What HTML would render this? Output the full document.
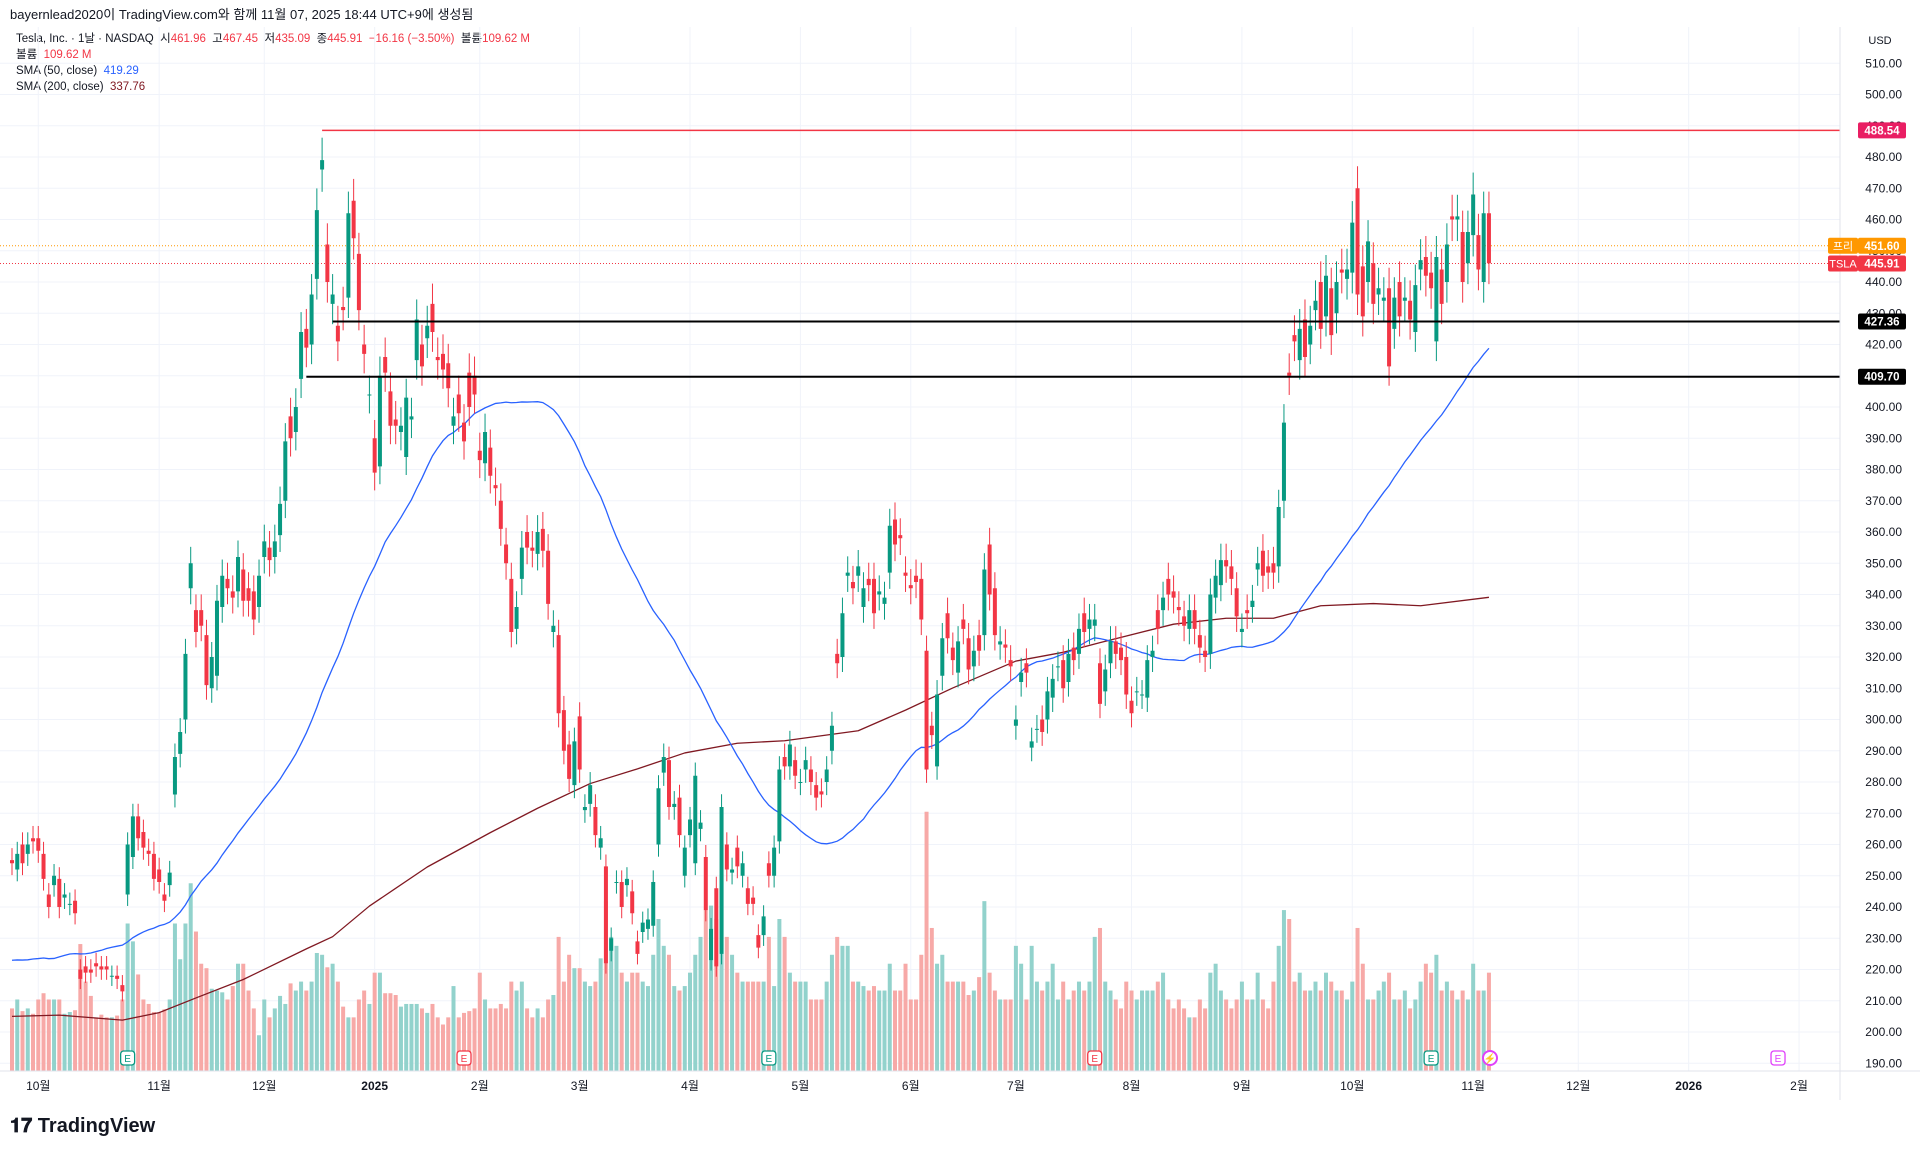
<!DOCTYPE html>
<html><head><meta charset="utf-8">
<style>
html,body{margin:0;padding:0;background:#fff;width:1920px;height:1155px;overflow:hidden;font-family:"Liberation Sans","Noto Sans CJK KR",sans-serif;}
#hdr{position:absolute;left:10px;top:4px;font-size:13px;color:#131722;}
#legend{position:absolute;left:16px;top:31px;font-size:11.5px;color:#131722;line-height:16px;}
.r{color:#f23645}.b{color:#2962ff}.m{color:#801922}
#logo{position:absolute;left:10px;top:1115px;font-size:20px;font-weight:bold;color:#131722;}
svg{position:absolute;left:0;top:0;}
</style></head><body>
<div id="hdr">bayernlead2020이 TradingView.com와 함께 11월 07, 2025 18:44 UTC+9에 생성됨</div>
<div id="legend">
<div>Tesla, Inc. · 1날 · NASDAQ &nbsp;시<span class="r">461.96</span> &nbsp;고<span class="r">467.45</span> &nbsp;저<span class="r">435.09</span> &nbsp;종<span class="r">445.91</span> &nbsp;<span class="r">−16.16 (−3.50%)</span> &nbsp;볼륨<span class="r">109.62 M</span></div>
<div>볼륨 &nbsp;<span class="r">109.62 M</span></div>
<div>SMA (50, close) &nbsp;<span class="b">419.29</span></div>
<div>SMA (200, close) &nbsp;<span class="m">337.76</span></div>
</div>
<div id="logo">𝟏𝟕 TradingView</div>
<svg id="chart" width="1920" height="1155"></svg>
<script>
const closes = [
254,257,254,260,261,
258,249,240,250,240,244,241,238,217,219,219,221,220,220,218,217,213,260,269,262,259,257,249,
248,242,251,288,296,321,350,328,330,311,320,338,346,342,339,352,338,338,332,346,
357,351,357,369,389,390,400,424,419,436,463,479,440,436,421,431,462,454,431,417,404,
379,410,411,394,394,394,403,397,428,413,426,424,415,412,406,397,398,389,400,404,
383,392,378,374,361,350,328,336,355,355,354,360,354,337,330,302,290,281,293,
284,272,279,263,262,222,230,248,240,249,238,225,235,236,248,278,288,272,273,263,259,
268,282,267,239,233,221,272,252,252,253,254,241,241,227,237,250,259,284,285,292,282,
280,287,280,275,276,284,298,318,334,347,342,349,342,343,334,341,339,362,356,358,346,
342,344,332,284,295,308,326,326,319,325,329,316,322,322,348,340,327,325,323,317,
300,315,315,293,297,296,309,313,317,310,321,319,329,328,332,332,305,316,325,321,319,308,
302,309,308,319,322,329,339,340,339,335,330,335,329,323,320,340,346,351,349,345,333,
329,334,338,350,346,347,347,368,395,410,421,425,416,426,434,425,442,423,440,443,444,
459,436,429,453,433,438,435,413,435,429,435,428,439,447,442,438,448,433,452,460,461,440,456,
468,444,462,446];
const opens = [
255,252,260,257,262,
262,257,244,247,249,243,241,242,220,221,220,222,221,221,218,218,215,244,256,269,264,258,257,
252,244,247,276,289,300,342,335,335,327,310,314,336,345,341,341,348,342,341,336,
352,355,352,359,370,397,392,409,425,420,441,476,452,433,426,432,435,466,449,420,404,
390,381,416,405,396,392,384,396,415,420,422,433,416,417,414,394,404,395,411,410,
386,382,387,375,370,356,345,329,345,360,355,353,361,354,328,327,303,292,279,
301,271,273,272,259,253,226,248,248,247,245,229,232,233,234,260,283,287,272,275,250,
263,254,265,256,223,246,225,260,251,259,250,246,243,231,231,254,250,261,288,285,287,
280,284,284,279,277,280,290,321,320,346,344,346,336,345,345,340,337,347,364,359,347,
343,346,345,322,298,285,314,334,323,315,332,326,317,327,327,356,342,324,324,319,
298,312,318,291,297,300,300,307,317,319,312,323,321,334,329,330,318,309,318,325,323,320,
306,309,308,307,320,335,335,345,341,336,333,329,335,327,322,321,339,343,351,349,342,
328,335,336,348,354,349,350,349,370,411,423,415,428,420,431,440,429,438,430,444,441,
443,470,445,440,446,436,434,438,425,440,434,434,424,444,448,443,421,444,440,461,460,456,446,
455,455,440,462];
const volumes = [
70,80,67,70,64,
80,87,80,80,80,64,66,68,142,100,84,60,63,60,60,62,80,165,145,108,80,75,66,
65,69,80,165,125,165,210,156,120,115,92,90,88,80,95,120,120,90,70,40,
80,60,70,84,75,98,90,100,90,100,132,130,116,120,100,72,60,60,80,90,75,
110,110,87,87,85,72,75,75,75,70,65,75,60,52,60,95,60,65,67,70,
110,80,70,70,75,70,100,90,100,70,60,70,60,80,85,150,100,130,115,
115,100,95,100,126,190,150,140,110,100,110,110,100,95,130,170,140,130,95,90,95,
110,130,150,180,185,170,220,150,130,110,100,100,100,100,100,150,95,170,150,110,100,
100,100,80,80,80,100,130,150,140,140,100,100,95,90,95,90,90,120,90,90,120,
80,80,130,290,160,120,130,100,100,100,100,85,90,105,190,110,90,80,80,80,
140,120,80,140,100,90,100,120,80,100,80,90,100,90,100,150,160,100,90,80,70,100,
90,80,90,90,90,100,110,80,70,80,70,60,60,80,70,110,120,90,80,70,80,
100,80,80,110,80,70,100,140,180,170,100,110,90,90,100,90,110,100,90,90,80,
100,160,120,80,80,90,100,110,80,80,90,70,80,100,120,110,130,90,100,90,80,90,80,
120,90,90,110];
const priorCloses = [252,256,256,248,251,240,251,246,215,220,219,232,222,
216,207,198,200,191,198,200,197,207,201,214,216,222,223,210,221,213,214,210,206,205,214,
210,219,230,230,216,226,228,229,230,227,226,238,244,250];
const sma200Idx = [0,9,21,28,35,44,56,61,68,79,91,100,110,119,128,138,147,161,170,179,191,200,207,221,231,240,249,259,268,281];
const sma200Val = [205,205.4,203.8,206.2,210.9,216.8,226.6,230.5,240.3,252.8,263.8,271.6,279.5,284.2,289.3,292.4,293.2,296.4,303,310.1,318.7,321.5,324.6,330.5,332.4,332.4,336.4,337.1,336.4,339.1];
const priceTicks = [190,200,210,220,230,240,250,260,270,280,290,300,310,320,330,340,350,360,370,380,390,400,410,420,430,440,450,460,470,480,490,500,510];
const monthLabels = ["10월","11월","12월","2025","2월","3월","4월","5월","6월","7월","8월","9월","10월","11월","12월","2026","2월"];
const monthIdx = [5,28,48,69,89,108,129,150,171,191,213,234,255,278,298,319,340];
const levels = [488.54,427.36,409.70];
const levelStart = [59,61,56];
const earningsIdx = [22,86,144,206,270];
const futureEarningsIdx = 336;

const svg=document.getElementById('chart');
const NS='http://www.w3.org/2000/svg';
const X0=12, DX=5.256, PR=1840, VB=1071;
const x=i=>X0+i*DX;
const y=p=>157+(480-p)*3.125;
const vy=v=>VB-v*0.894;
function mk(tag,attrs,parent){const e=document.createElementNS(NS,tag);for(const k in attrs)e.setAttribute(k,attrs[k]);(parent||svg).appendChild(e);return e;}

const grid=mk('g',{});


priceTicks.forEach(p=>{const l=mk('line',{x1:0,x2:PR,y1:y(p),y2:y(p),stroke:'#f0f3fa','stroke-width':1},grid);

});
monthIdx.forEach(i=>{const l=mk('line',{x1:x(i),x2:x(i),y1:27,y2:VB,stroke:'#f0f3fa','stroke-width':1},grid);

});

const vg=mk('g',{});


volumes.forEach((v,i)=>{const up=closes[i]>=opens[i];
const r=mk('rect',{x:x(i)-2,y:vy(v),width:4,height:VB-vy(v),fill:up?'#92d2cc':'#f7a9a7'},vg);

});

let d='';sma200Idx.forEach((i,k)=>{d+=(k?'L':'M')+x(i)+' '+y(sma200Val[k]);});
const s2=mk('path',{d:d,fill:'none',stroke:'#801922','stroke-width':1.3,'stroke-linejoin':'round'});


const all=priorCloses.concat(closes);const P=priorCloses.length;
d='';for(let i=0;i<closes.length;i++){let s=0;for(let j=i+P-49;j<=i+P;j++)s+=all[j];d+=(i?'L':'M')+x(i)+' '+y(s/50);}
const s1=mk('path',{d:d,fill:'none',stroke:'#2962ff','stroke-width':1.3});



const pl1=mk('line',{x1:0,x2:PR,y1:y(451.6),y2:y(451.6),stroke:'#ff9800','stroke-width':1,'stroke-dasharray':'1 2'});


const pl2=mk('line',{x1:0,x2:PR,y1:y(445.91),y2:y(445.91),stroke:'#f23645','stroke-width':1,'stroke-dasharray':'1 2'});



const cg=mk('g',{});


closes.forEach((c,i)=>{const o=opens[i];const up=c>=o;const col=up?'#089981':'#f23645';
const hi=Math.max(o,c)*1.015, lo=Math.min(o,c)*0.985;
const w=mk('line',{x1:x(i),x2:x(i),y1:y(hi),y2:y(lo),stroke:col,'stroke-width':1},cg);


const top=y(Math.max(o,c));const h=Math.max(1,y(Math.min(o,c))-top);
const b=mk('rect',{x:x(i)-2,y:top,width:4,height:h,fill:col},cg);

});

levels.forEach((p,k)=>{const l=mk('line',{x1:x(levelStart[k]),x2:PR,y1:y(p),y2:y(p),stroke:k?'#000':'#f23645','stroke-width':k?2:1.5});

});

earningsIdx.concat([futureEarningsIdx]).forEach((i,k)=>{const g=mk('g',{});


const purple=k===5;
const col=purple?'#e040fb':(k%2?'#f23645':'#089981');
mk('rect',{x:x(i)-7,y:1051,width:14,height:14,rx:3,fill:'#fff',stroke:col,'stroke-width':1.3},g);
const t=mk('text',{x:x(i),y:1062,'text-anchor':'middle','font-size':10,fill:col,'font-family':'Liberation Sans'},g);t.textContent='E';});
const ev=mk('circle',{cx:1490,cy:1058,r:7,fill:'#fff',stroke:'#e040fb','stroke-width':2});


const evt=mk('text',{x:1490,y:1062,'text-anchor':'middle','font-size':10,fill:'#e040fb'});evt.textContent='⚡';



const ax=mk('line',{x1:PR,x2:PR,y1:27,y2:1100,stroke:'#e0e3eb'});


const bx=mk('line',{x1:0,x2:1920,y1:VB,y2:VB,stroke:'#e0e3eb'});


const usd=mk('text',{x:1880,y:44,'text-anchor':'middle','font-size':11,fill:'#131722'});usd.textContent='USD';


priceTicks.forEach(p=>{const t=mk('text',{x:1902,y:y(p)+4,'text-anchor':'end','font-size':12,fill:'#131722'});t.textContent=p.toFixed(2);

});
monthLabels.forEach((m,k)=>{const t=mk('text',{x:x(monthIdx[k]),y:1090,'text-anchor':'middle','font-size':12,'font-weight':(m==='2025'||m==='2026')?'bold':'normal',fill:'#131722','font-family':'Liberation Sans, Noto Sans CJK KR, sans-serif'});t.textContent=m;

});

function tag(p,txt,bg,pre,preBg){const g=mk('g',{});


mk('rect',{x:1858,y:y(p)-8,width:48,height:16,rx:2,fill:bg},g);
const t=mk('text',{x:1882,y:y(p)+4,'text-anchor':'middle','font-size':11.5,fill:'#fff','font-weight':'bold'},g);t.textContent=txt;
if(pre){mk('rect',{x:1828,y:y(p)-8,width:30,height:16,rx:2,fill:preBg},g);
const q=mk('text',{x:1843,y:y(p)+4,'text-anchor':'middle','font-size':11,fill:'#fff','font-family':'Liberation Sans, Noto Sans CJK KR, sans-serif'},g);q.textContent=pre;}}
tag(488.54,'488.54','#e91e63');
tag(451.6,'451.60','#ff9800','프리','#ff9800');
tag(445.91,'445.91','#f23645','TSLA','#f23645');
tag(427.36,'427.36','#000');
tag(409.70,'409.70','#000');
</script>
</body></html>
